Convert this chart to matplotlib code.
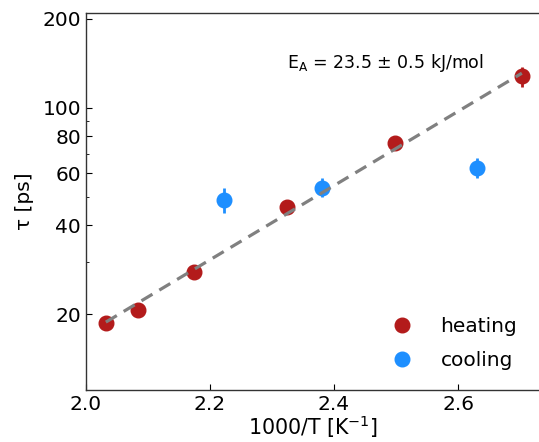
import matplotlib
matplotlib.use("Agg")
import matplotlib.pyplot as plt
from matplotlib.ticker import FixedLocator, NullFormatter, FixedFormatter
from matplotlib.lines import Line2D

# Data
heat_x = [2.032, 2.084, 2.174, 2.324, 2.498, 2.703]
heat_y = [18.7, 20.6, 27.7, 46.3, 76.0, 128.0]
heat_err = [0.6, 0.7, 0.9, 1.5, 2.5, 10.0]

cool_x = [2.223, 2.381, 2.631]
cool_y = [48.9, 53.7, 62.7]
cool_err = [4.8, 4.0, 4.8]

fit_x = [2.032, 2.703]
fit_y = [18.8, 131.0]

y_major = [20, 40, 60, 80, 100, 200]
y_minor = [30, 50, 70, 90]
x_ticks = [2.0, 2.2, 2.4, 2.6]

RED = '#b31b1b'
BLUE = '#1e8fff'

fig = plt.figure(figsize=(5.39, 4.42), dpi=100)
ax = fig.add_axes([86/539, 52/442, 454/539, 377/442])

ax.plot(fit_x, fit_y, '--', color='#808080', lw=2.3, dashes=(4, 2.5), zorder=3)
ax.errorbar(heat_x, heat_y, yerr=heat_err, fmt='o', color=RED, ms=10.5,
            elinewidth=2, capsize=0, zorder=2)
ax.errorbar(cool_x, cool_y, yerr=cool_err, fmt='o', color=BLUE, ms=10.5,
            elinewidth=2, capsize=0, zorder=2)

ax.set_yscale('log')
ax.set_xlim(2.0, 2.0 + 454/620)
ax.set_ylim(11.07, 209.5)
ax.yaxis.set_major_locator(FixedLocator(y_major))
ax.yaxis.set_major_formatter(FixedFormatter([str(v) for v in y_major]))
ax.yaxis.set_minor_locator(FixedLocator(y_minor))
ax.yaxis.set_minor_formatter(NullFormatter())
ax.set_xticks(x_ticks)
ax.set_xticklabels(['2.0', '2.2', '2.4', '2.6'])

ax.tick_params(which='both', direction='in', labelsize=14.5)
ax.tick_params(which='major', length=4)
ax.tick_params(which='minor', length=2.5)
for s in ax.spines.values():
    s.set_linewidth(1.0)
    s.set_color('#333333')
ax.spines['right'].set_visible(False)

ax.set_xlabel('1000/T [K$^{-1}$]', fontsize=14.8, labelpad=-0.5)
ax.set_ylabel('τ [ps]', fontsize=14.5, labelpad=6)

ax.text(2.324, 136, r'E$_\mathrm{A}$ = 23.5 ± 0.5 kJ/mol', fontsize=12.5)

handles = [Line2D([], [], ls='none', marker='o', color=RED, ms=10.5),
           Line2D([], [], ls='none', marker='o', color=BLUE, ms=10.5)]
ax.legend(handles, ['heating', 'cooling'], loc='lower right',
          bbox_to_anchor=(0.99, 0.005), frameon=False,
          fontsize=14.5, handletextpad=1.3, labelspacing=0.72,
          handlelength=1.2, borderaxespad=0.5)

fig.savefig('out.png', dpi=100)
